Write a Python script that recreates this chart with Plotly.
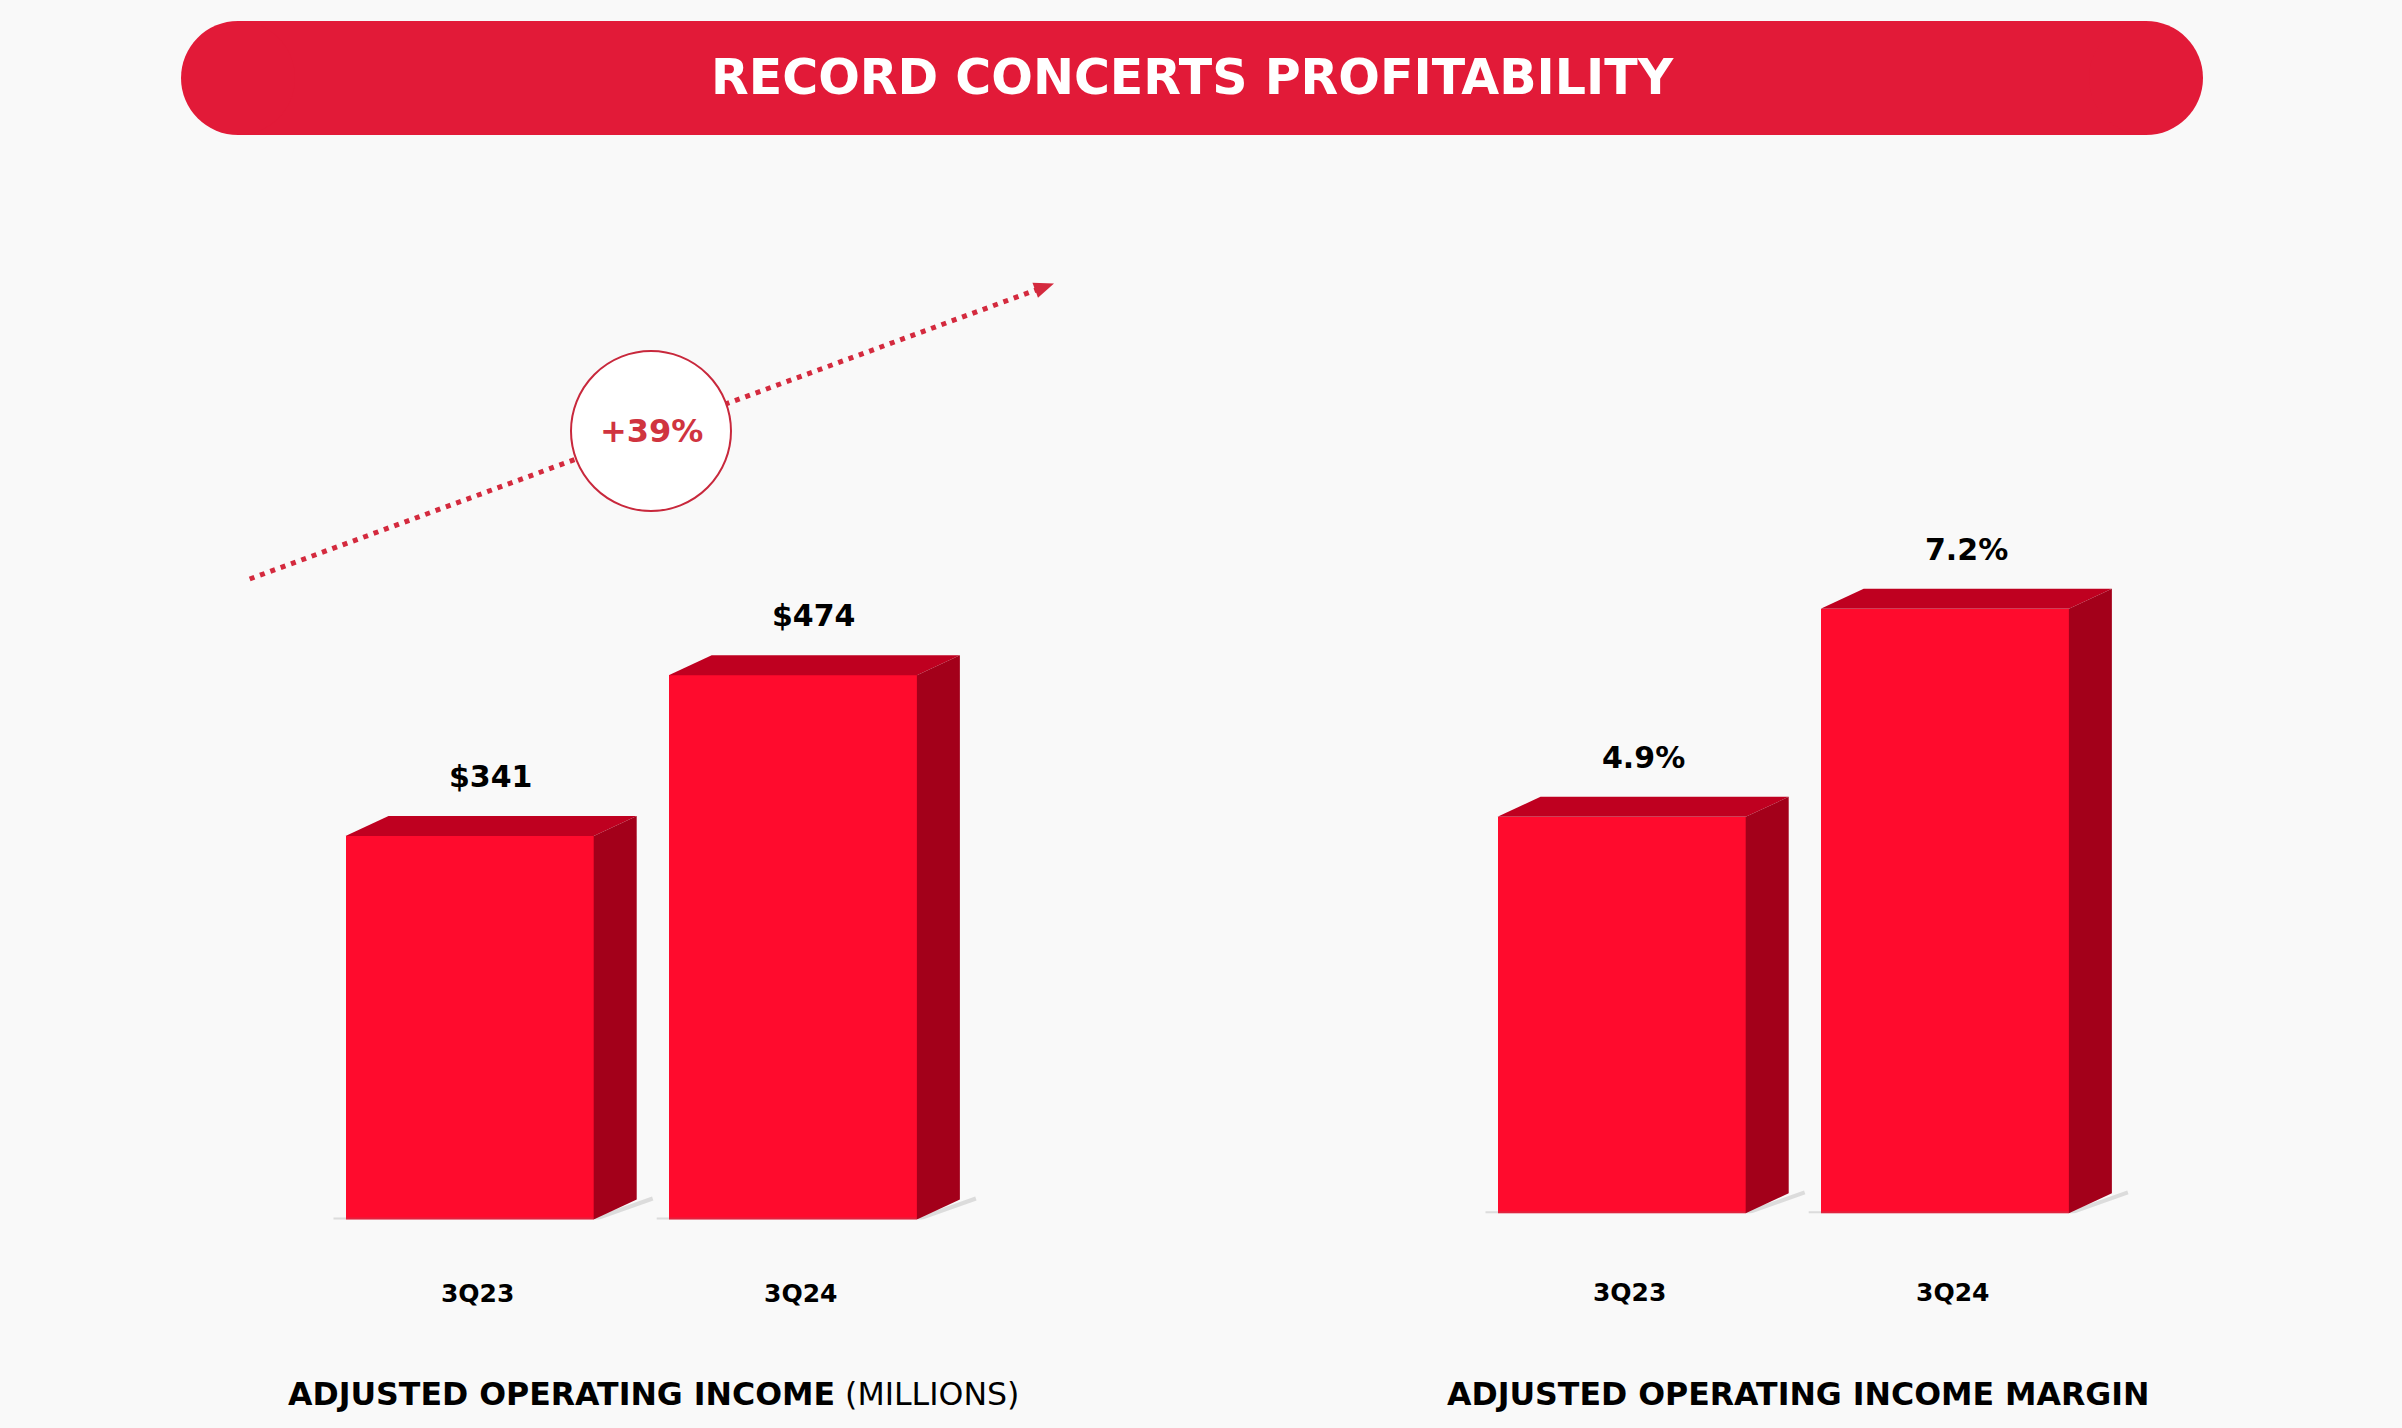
import math
import plotly.graph_objects as go

# ---- data -------------------------------------------------------------
periods = ["3Q23", "3Q24"]
income = [341, 474]            # adjusted operating income, $M
margin = [4.9, 7.2]            # adjusted operating income margin, %
income_text = ["$341", "$474"]
margin_text = ["4.9%", "7.2%"]
growth_text = "+39%"
title_text = "RECORD CONCERTS PROFITABILITY"

# ---- styling ----------------------------------------------------------
W, H = 2402, 1428
BG = "#F9F9F9"
BANNER = "#E21A38"
FRONT = "#FF0B2D"
TOP = "#BF0020"
SIDE = "#A3001A"
ACCENT = "#D42A3E"
FONT = "DejaVu Sans"

X_RANGE = [-0.6, 1.6]
BAR_W = 0.768
DEPTH_X_PX = 43
DEPTH_Y_PX = 20


def px(x):
    return x / W


def py(y):
    return 1 - y / H


panels = [
    dict(values=income, labels=income_text, xa="x", ya="y", standoff=56,
         xdom=[px(275.7), px(986.7)], ydom=[py(1219.5), py(357)], yrange=[24, 737]),
    dict(values=margin, labels=margin_text, xa="x2", ya="y2", standoff=62,
         xdom=[px(1427.7), px(2138.7)], ydom=[py(1213.3), py(357)], yrange=[0.52, 9.98]),
]

fig = go.Figure()
annotations = []

for p in panels:
    x_unit = (p["xdom"][1] - p["xdom"][0]) * W / (X_RANGE[1] - X_RANGE[0])
    y_unit = (p["ydom"][1] - p["ydom"][0]) * H / (p["yrange"][1] - p["yrange"][0])
    dx = DEPTH_X_PX / x_unit
    dy = DEPTH_Y_PX / y_unit
    base = p["yrange"][0]
    xs = list(range(len(periods)))

    # soft floor shadow
    for i in xs:
        x0, x1 = i - BAR_W / 2, i + BAR_W / 2
        fig.add_trace(go.Scatter(
            x=[x0 - 12 / x_unit, x1, x1 + dx + 16 / x_unit],
            y=[base, base, base + dy * 1.05],
            mode="lines", line=dict(color="rgba(120,120,120,0.22)", width=4),
            xaxis=p["xa"], yaxis=p["ya"], hoverinfo="skip", showlegend=False,
        ))

    # front faces
    fig.add_trace(go.Bar(
        x=xs, y=p["values"], width=BAR_W, marker=dict(color=FRONT, line=dict(width=0)),
        xaxis=p["xa"], yaxis=p["ya"], showlegend=False, hoverinfo="skip",
    ))

    for i, v in zip(xs, p["values"]):
        x0, x1 = i - BAR_W / 2, i + BAR_W / 2
        # top face
        fig.add_trace(go.Scatter(
            x=[x0, x0 + dx, x1 + dx, x1, x0],
            y=[v, v + dy, v + dy, v, v],
            fill="toself", fillcolor=TOP, mode="lines", line=dict(width=0, color=TOP),
            xaxis=p["xa"], yaxis=p["ya"], hoverinfo="skip", showlegend=False,
        ))
        # side face
        fig.add_trace(go.Scatter(
            x=[x1, x1 + dx, x1 + dx, x1, x1],
            y=[base, base + dy, v + dy, v, base],
            fill="toself", fillcolor=SIDE, mode="lines", line=dict(width=0, color=SIDE),
            xaxis=p["xa"], yaxis=p["ya"], hoverinfo="skip", showlegend=False,
        ))

    for i, v, t in zip(xs, p["values"], p["labels"]):
        annotations.append(dict(
            x=i + dx / 2, y=v + dy, xref=p["xa"], yref=p["ya"], text=t,
            showarrow=False, xanchor="center", yanchor="bottom", yshift=20,
            font=dict(family=FONT, size=30, color="#000000", weight="bold"),
        ))


def x_axis(p):
    return dict(
        domain=p["xdom"], anchor=p["ya"], range=X_RANGE,
        tickvals=[0, 1], ticktext=periods, showgrid=False,
        zeroline=False, showline=False, ticks="",
        ticklabelstandoff=p["standoff"], ticklabelshift=8,
        tickfont=dict(family=FONT, size=25, color="#000000", weight="bold"),
        fixedrange=True,
    )


def y_axis(p):
    return dict(domain=p["ydom"], anchor=p["xa"], range=p["yrange"], visible=False,
                showgrid=False, zeroline=False, fixedrange=True)


# ---- decorations (paper coords) ----------------------------------------
shapes = []
# banner: rectangle with round ends
b_x0, b_x1, b_y0, b_y1 = 181, 2203, 21, 135
r = (b_y1 - b_y0) / 2
shapes.append(dict(type="rect", xref="paper", yref="paper",
                   x0=px(b_x0 + r), x1=px(b_x1 - r), y0=py(b_y1), y1=py(b_y0),
                   fillcolor=BANNER, line=dict(width=0), layer="below"))
for cx in (b_x0 + r, b_x1 - r):
    shapes.append(dict(type="circle", xref="paper", yref="paper",
                       x0=px(cx - r), x1=px(cx + r), y0=py(b_y1), y1=py(b_y0),
                       fillcolor=BANNER, line=dict(width=0), layer="below"))

# dotted growth arrow
a0 = (249.7, 579.0)
a1 = (1040.0, 288.5)
tip = (1054.0, 283.4)
shapes.append(dict(type="line", xref="paper", yref="paper",
                   x0=px(a0[0]), y0=py(a0[1]), x1=px(a1[0]), y1=py(a1[1]),
                   line=dict(color=ACCENT, width=5, dash="5px,6px")))
ux, uy = tip[0] - a0[0], tip[1] - a0[1]
n = math.hypot(ux, uy)
ux, uy = ux / n, uy / n
hl, hw = 20, 8
bx, by = tip[0] - hl * ux, tip[1] - hl * uy
pts = [tip, (bx - hw * uy, by + hw * ux), (bx + hw * uy, by - hw * ux)]
path = "M {} {} L {} {} L {} {} Z".format(*[v for pt in pts for v in (px(pt[0]), py(pt[1]))])
shapes.append(dict(type="path", xref="paper", yref="paper", path=path,
                   fillcolor=ACCENT, line=dict(width=0)))

# circle badge
cx, cy, cr = 651, 431, 80
shapes.append(dict(type="circle", xref="paper", yref="paper",
                   x0=px(cx - cr), x1=px(cx + cr), y0=py(cy + cr), y1=py(cy - cr),
                   fillcolor="#FFFFFF", line=dict(color="#C8283C", width=2)))

centered = dict(xref="paper", yref="paper", showarrow=False,
                xanchor="center", yanchor="middle")
annotations += [
    dict(x=px(cx), y=py(cy), text=growth_text,
         font=dict(family=FONT, size=32, color="#D0343F", weight="bold"), **centered),
    dict(x=px(1192), y=py(77), text=title_text,
         font=dict(family=FONT, size=49, color="#FFFFFF", weight="bold"), **centered),
    dict(x=px(654), y=py(1394), text="<b>ADJUSTED OPERATING INCOME</b> (MILLIONS)",
         font=dict(family=FONT, size=31.6, color="#000000"), **centered),
    dict(x=px(1798), y=py(1394), text="<b>ADJUSTED OPERATING INCOME MARGIN</b>",
         font=dict(family=FONT, size=31.6, color="#000000"), **centered),
]

fig.update_layout(
    width=W, height=H,
    margin=dict(l=0, r=0, t=0, b=0),
    paper_bgcolor=BG, plot_bgcolor=BG,
    showlegend=False,
    xaxis=x_axis(panels[0]), yaxis=y_axis(panels[0]),
    xaxis2=x_axis(panels[1]), yaxis2=y_axis(panels[1]),
    shapes=shapes,
    annotations=annotations,
    bargap=0,
)

# drop the default page margin so the figure sits flush in the window
fig.write_html("out.html", config={"displayModeBar": False},
               post_script="document.body.style.margin = '0';")
